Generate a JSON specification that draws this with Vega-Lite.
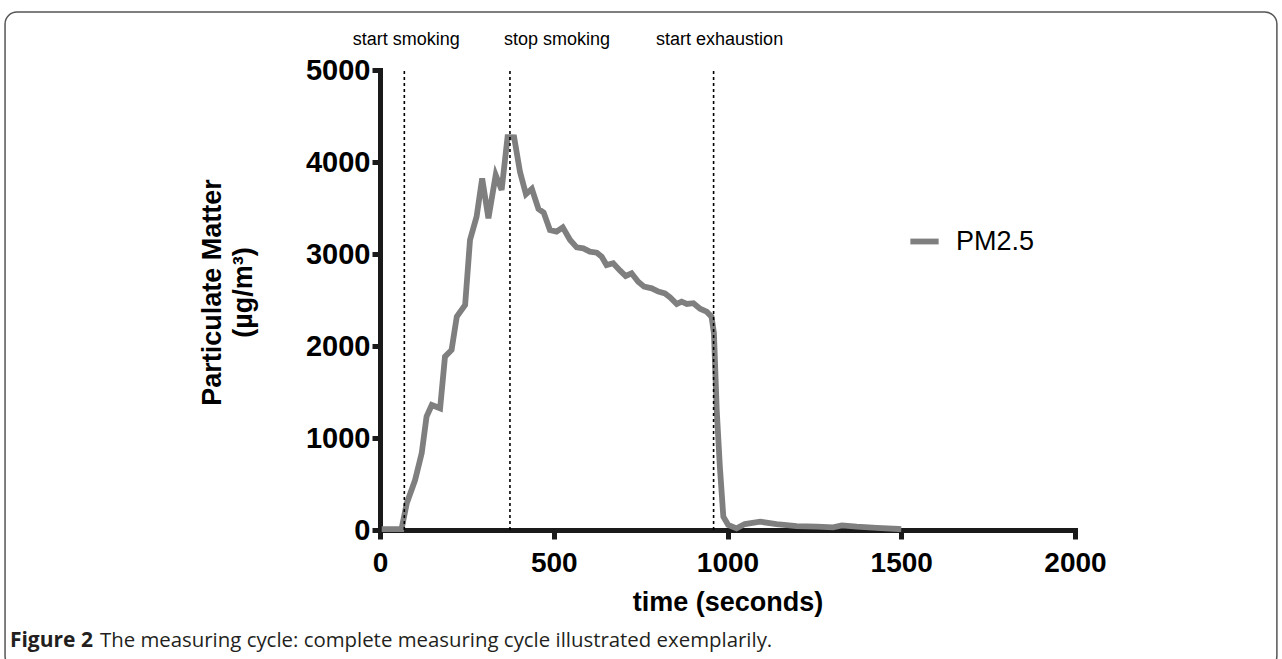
{
  "$schema": "https://vega.github.io/schema/vega-lite/v6.json",
  "width": 695,
  "height": 460,
  "autosize": {"type": "none"},
  "padding": {"left": 380, "top": 70, "right": 207, "bottom": 129},
  "background": "white",
  "config": {
    "view": {"stroke": null},
    "font": "Liberation Sans",
    "axis": {
      "grid": false,
      "domainColor": "#1a1a1a", "domainWidth": 5, "domainCap": "square",
      "tickColor": "#1a1a1a", "tickWidth": 5,
      "labelFont": "Liberation Sans", "labelFontSize": 28, "labelFontWeight": "bold", "labelColor": "black",
      "labelFlush": false, "labelOverlap": false,
      "titleFont": "Liberation Sans", "titleFontSize": 27, "titleFontWeight": "bold", "titleColor": "black"
    },
    "axisX": {"tickSize": 9, "labelPadding": 10, "titlePadding": 12},
    "axisY": {"tickSize": 8, "labelPadding": 2, "labelFontSize": 29, "titlePadding": 48, "titleLineHeight": 31, "titleY": 222}
  },
  "datasets": {
    "pm": [
      {"time": 5, "pm": 10}, {"time": 62, "pm": 10}, {"time": 77, "pm": 290}, {"time": 101, "pm": 543},
      {"time": 120, "pm": 834}, {"time": 134, "pm": 1232}, {"time": 149, "pm": 1359}, {"time": 173, "pm": 1323},
      {"time": 187, "pm": 1884}, {"time": 206, "pm": 1957}, {"time": 221, "pm": 2319}, {"time": 245, "pm": 2446},
      {"time": 259, "pm": 3152}, {"time": 278, "pm": 3406}, {"time": 294, "pm": 3822}, {"time": 312, "pm": 3388},
      {"time": 333, "pm": 3859}, {"time": 350, "pm": 3696}, {"time": 367, "pm": 4270}, {"time": 386, "pm": 4268},
      {"time": 403, "pm": 3890}, {"time": 420, "pm": 3650}, {"time": 437, "pm": 3708}, {"time": 456, "pm": 3490},
      {"time": 471, "pm": 3450}, {"time": 489, "pm": 3261}, {"time": 508, "pm": 3243}, {"time": 526, "pm": 3290},
      {"time": 547, "pm": 3152}, {"time": 566, "pm": 3072}, {"time": 585, "pm": 3061}, {"time": 604, "pm": 3025},
      {"time": 624, "pm": 3014}, {"time": 638, "pm": 2971}, {"time": 652, "pm": 2880}, {"time": 671, "pm": 2899},
      {"time": 691, "pm": 2819}, {"time": 707, "pm": 2761}, {"time": 724, "pm": 2790}, {"time": 743, "pm": 2699},
      {"time": 760, "pm": 2645}, {"time": 782, "pm": 2627}, {"time": 801, "pm": 2591}, {"time": 820, "pm": 2572},
      {"time": 835, "pm": 2529}, {"time": 854, "pm": 2457}, {"time": 868, "pm": 2482}, {"time": 883, "pm": 2457},
      {"time": 902, "pm": 2465}, {"time": 921, "pm": 2405}, {"time": 940, "pm": 2373}, {"time": 954, "pm": 2319},
      {"time": 961, "pm": 2138}, {"time": 969, "pm": 1304}, {"time": 978, "pm": 688}, {"time": 988, "pm": 145},
      {"time": 1002, "pm": 54}, {"time": 1026, "pm": 18}, {"time": 1050, "pm": 65}, {"time": 1094, "pm": 90},
      {"time": 1141, "pm": 65}, {"time": 1199, "pm": 43}, {"time": 1257, "pm": 36}, {"time": 1304, "pm": 29},
      {"time": 1329, "pm": 51}, {"time": 1372, "pm": 36}, {"time": 1429, "pm": 22}, {"time": 1492, "pm": 11},
      {"time": 1500, "pm": 10}
    ],
    "events": [
      {"time": 70, "event": "start smoking"},
      {"time": 374, "event": "stop smoking"},
      {"time": 960, "event": "start exhaustion"}
    ]
  },
  "layer": [
    {
      "data": {"name": "pm"},
      "mark": {"type": "line", "strokeWidth": 5.8, "strokeJoin": "miter"},
      "encoding": {
        "x": {
          "field": "time", "type": "quantitative",
          "scale": {"domain": [0, 2000], "nice": false, "zero": false},
          "axis": {"title": "time (seconds)", "values": [0, 500, 1000, 1500, 2000], "format": "d"}
        },
        "y": {
          "field": "pm", "type": "quantitative",
          "scale": {"domain": [0, 5000], "nice": false},
          "axis": {"title": ["Particulate Matter", "(µg/m³)"], "values": [0, 1000, 2000, 3000, 4000, 5000], "format": "d"}
        },
        "color": {
          "datum": "PM2.5",
          "scale": {"range": ["#7f7f7f"]},
          "legend": {
            "title": null, "orient": "none", "legendX": 527, "legendY": 154,
            "symbolType": "stroke", "symbolStrokeWidth": 5.8, "symbolSize": 800,
            "labelFont": "Liberation Sans", "labelFontSize": 27, "labelColor": "black", "labelOffset": 14
          }
        }
      }
    },
    {
      "data": {"values": [{}]},
      "mark": {"type": "rect", "fill": null, "stroke": "#555555", "strokeWidth": 1.5, "cornerRadius": 12},
      "encoding": {
        "x": {"datum": -1079, "type": "quantitative", "scale": {"domain": [0, 2000], "nice": false, "zero": false}},
        "x2": {"datum": 2581},
        "y": {"datum": 5630, "type": "quantitative", "scale": {"domain": [0, 5000], "nice": false}},
        "y2": {"datum": -1500}
      }
    },
    {
      "data": {"name": "events"},
      "mark": {"type": "rule", "color": "black", "strokeWidth": 1.6, "strokeDash": [3, 3]},
      "encoding": {
        "x": {"field": "time", "type": "quantitative", "scale": {"domain": [0, 2000], "nice": false, "zero": false}},
        "y": {"datum": 0, "type": "quantitative", "scale": {"domain": [0, 5000], "nice": false}},
        "y2": {"datum": 5000}
      }
    },
    {
      "data": {"name": "events"},
      "transform": [{"filter": "datum.event === 'start smoking'"}],
      "mark": {"type": "text", "fontSize": 18, "font": "Liberation Sans", "color": "black", "align": "center", "baseline": "middle", "dx": 2},
      "encoding": {
        "x": {"field": "time", "type": "quantitative", "scale": {"domain": [0, 2000], "nice": false, "zero": false}},
        "y": {"datum": 5326, "type": "quantitative", "scale": {"domain": [0, 5000], "nice": false}},
        "text": {"field": "event"}
      }
    },
    {
      "data": {"name": "events"},
      "transform": [{"filter": "datum.event === 'stop smoking'"}],
      "mark": {"type": "text", "fontSize": 18, "font": "Liberation Sans", "color": "black", "align": "center", "baseline": "middle", "dx": 47},
      "encoding": {
        "x": {"field": "time", "type": "quantitative", "scale": {"domain": [0, 2000], "nice": false, "zero": false}},
        "y": {"datum": 5326, "type": "quantitative", "scale": {"domain": [0, 5000], "nice": false}},
        "text": {"field": "event"}
      }
    },
    {
      "data": {"name": "events"},
      "transform": [{"filter": "datum.event === 'start exhaustion'"}],
      "mark": {"type": "text", "fontSize": 18, "font": "Liberation Sans", "color": "black", "align": "center", "baseline": "middle", "dx": 6},
      "encoding": {
        "x": {"field": "time", "type": "quantitative", "scale": {"domain": [0, 2000], "nice": false, "zero": false}},
        "y": {"datum": 5326, "type": "quantitative", "scale": {"domain": [0, 5000], "nice": false}},
        "text": {"field": "event"}
      }
    },
    {
      "data": {"values": [{"t": "Figure 2"}]},
      "mark": {"type": "text", "font": "Open Sans", "fontSize": 21, "fontWeight": "bold", "color": "#231f20", "align": "left", "baseline": "alphabetic"},
      "encoding": {
        "x": {"datum": -1065, "type": "quantitative", "scale": {"domain": [0, 2000], "nice": false, "zero": false}},
        "y": {"datum": -1272, "type": "quantitative", "scale": {"domain": [0, 5000], "nice": false}},
        "text": {"field": "t"}
      }
    },
    {
      "data": {"values": [{"t": "The measuring cycle: complete measuring cycle illustrated exemplarily."}]},
      "mark": {"type": "text", "font": "Open Sans", "fontSize": 20.4, "color": "#231f20", "align": "left", "baseline": "alphabetic"},
      "encoding": {
        "x": {"datum": -806, "type": "quantitative", "scale": {"domain": [0, 2000], "nice": false, "zero": false}},
        "y": {"datum": -1272, "type": "quantitative", "scale": {"domain": [0, 5000], "nice": false}},
        "text": {"field": "t"}
      }
    }
  ]
}
